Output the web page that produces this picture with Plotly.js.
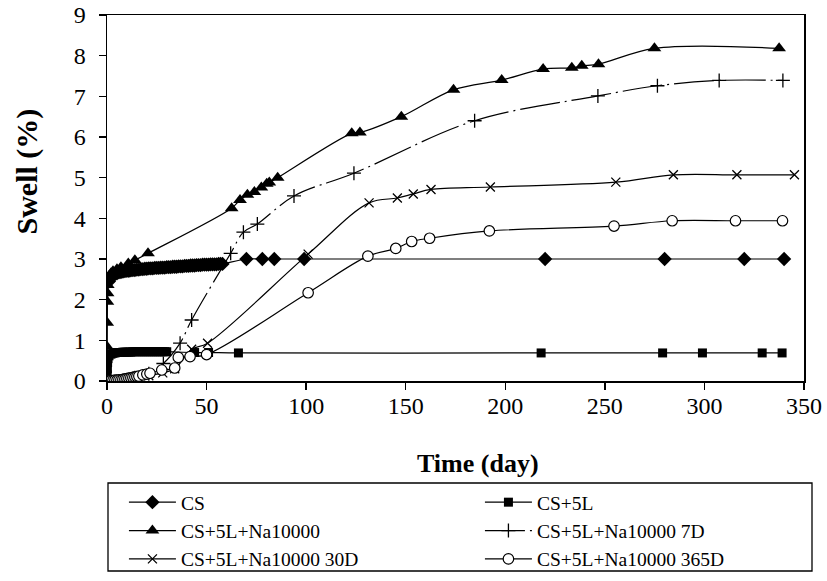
<!DOCTYPE html>
<html><head><meta charset="utf-8">
<script src="https://cdn.plot.ly/plotly-3.0.1.min.js"></script>
<style>html,body{margin:0;padding:0;background:#fff}#chart{width:827px;height:581px}</style>
</head><body><div id="chart"></div>
<script>
// ---- Data ----
const seriesNames = ["CS", "CS+5L", "CS+5L+Na10000", "CS+5L+Na10000 7D", "CS+5L+Na10000 30D", "CS+5L+Na10000 365D"];

const csDay = [0,1,2,3,4,5,6,7,8,9,10,11,12,13,14,15,16,17,18,19,20,21,22,23,24,25,26,27,28,29,30,31,32,33,34,35,36,37,38,39,40,41,42,43,44,45,46,47,48,49,50,51,52,53,54,55,56,57,58,70,78,84,99,220,280,320,340];
const csVal = [0,2.45,2.55,2.6,2.63,2.65,2.67,2.68,2.69,2.7,2.71,2.71,2.72,2.73,2.73,2.74,2.74,2.75,2.75,2.76,2.76,2.77,2.77,2.77,2.78,2.78,2.78,2.79,2.79,2.79,2.8,2.8,2.8,2.81,2.81,2.81,2.82,2.82,2.82,2.83,2.83,2.83,2.84,2.84,2.84,2.85,2.85,2.85,2.86,2.86,2.86,2.86,2.87,2.87,2.87,2.87,2.88,2.88,2.88,3,3,3,3,3,3,3,3];

const s5Day = [0,0.1,0.2,0.3,0.5,1,2,3,4,5,6,7,8,9,10,11,12,13,14,15,16,17,18,19,20,21,22,23,24,25,26,27,28,29,30,44,51,66,218,279,299,329,339];
const s5Val = [0,0.15,0.3,0.45,0.55,0.62,0.66,0.68,0.69,0.7,0.7,0.7,0.71,0.71,0.71,0.71,0.71,0.72,0.72,0.72,0.72,0.72,0.72,0.72,0.72,0.72,0.72,0.72,0.72,0.72,0.72,0.72,0.72,0.72,0.72,0.7,0.7,0.69,0.69,0.69,0.69,0.69,0.69];

const naDay = [0,0.05,0.1,0.2,0.3,0.4,0.6,1,2,3,5,7,10.7,14,20.6,62.6,66.8,70.5,74,77.5,80.2,81.5,85.7,122.9,127,147.8,174,198.2,219,233.4,238.4,246.8,274.9,337.5];
const naVal = [0,0.84,1.43,1.95,2.16,2.36,2.5,2.58,2.65,2.7,2.75,2.8,2.89,2.97,3.14,4.25,4.45,4.58,4.65,4.76,4.85,4.88,5.0,6.09,6.11,6.5,7.16,7.4,7.67,7.7,7.75,7.79,8.18,8.18];

const d7Day = [0,14,21,28.3,36.7,42.5,62.1,68.5,75.5,93.9,124,184.6,246.5,276.4,307.4,339.4];
const d7Val = [0,0.08,0.18,0.43,0.93,1.5,3.14,3.66,3.86,4.55,5.11,6.4,7.01,7.26,7.39,7.39];

const d30Day = [0,7,14,21,28,34,42.5,50.5,101,131.6,145.8,153.8,162.7,192.5,255.5,284.4,316.3,345.2];
const d30Val = [0,0.03,0.07,0.13,0.2,0.3,0.78,0.93,3.12,4.38,4.5,4.6,4.71,4.77,4.89,5.07,5.07,5.07];

const d365Day = [0,1,2,3,4,5,6,7,8,9,10,11,12,13,14,15,16,18,20,21.6,27.5,34,35.8,41.7,50,101,131,145,153,162,192,254.6,283.8,315.6,339.2];
const d365Val = [0,0,0.01,0.01,0.02,0.02,0.03,0.03,0.04,0.05,0.06,0.07,0.08,0.09,0.1,0.11,0.12,0.15,0.17,0.19,0.27,0.32,0.58,0.6,0.65,2.17,3.07,3.26,3.43,3.51,3.69,3.81,3.94,3.94,3.94];

const xTicks = [0,50,100,150,200,250,300,350];
const yTicks = [0,1,2,3,4,5,6,7,8,9];

// ---- Styling ----
const FONT = "Liberation Serif";
const lineBase = {color: "#000", width: 1.2, shape: "spline", smoothing: 1};

const traces = [
  {name: seriesNames[0], x: csDay, y: csVal, mode: "lines+markers", line: lineBase,
   marker: {symbol: "diamond", size: 11, color: "#000"}},
  {name: seriesNames[1], x: s5Day, y: s5Val, mode: "lines+markers", line: lineBase,
   marker: {symbol: "square", size: 9, color: "#000"}},
  {name: seriesNames[2], x: naDay, y: naVal, mode: "lines+markers", line: lineBase,
   marker: {symbol: "triangle-up", size: 12, color: "#000"}},
  {name: seriesNames[3], x: d7Day, y: d7Val, mode: "lines+markers",
   line: Object.assign({}, lineBase, {dash: "40px,5px,2px,5px"}),
   marker: {symbol: "cross-thin", size: 10, color: "#000", line: {color: "#000", width: 1.3}}},
  {name: seriesNames[4], x: d30Day, y: d30Val, mode: "lines+markers", line: lineBase,
   marker: {symbol: "x-thin", size: 9, color: "#000", line: {color: "#000", width: 1.3}}},
  {name: seriesNames[5], x: d365Day, y: d365Val, mode: "lines+markers", line: lineBase,
   marker: {symbol: "circle", size: 10.5, color: "#fff", line: {color: "#000", width: 1.2}}}
];

const PW = 697, PH = 366;   // plot area size in px
const layout = {
  width: 827, height: 581,
  margin: {l: 107, r: 23, t: 15, b: 200, autoexpand: false},
  paper_bgcolor: "#fff", plot_bgcolor: "#fff",
  font: {family: FONT, size: 24, color: "#000"},
  showlegend: true,
  xaxis: {range: [0, 350], tickvals: xTicks, ticktext: xTicks.map(String),
    showgrid: false, zeroline: false, showline: true, mirror: true,
    linecolor: "#000", linewidth: 1.5, ticks: "outside", ticklen: 7, tickwidth: 1.5, tickcolor: "#000",
    ticklabelstandoff: -4,
    tickfont: {family: FONT, size: 24, color: "#000"}},
  yaxis: {range: [0, 9], tickvals: yTicks, ticktext: yTicks.map(String),
    showgrid: false, zeroline: false, showline: true, mirror: true,
    linecolor: "#000", linewidth: 1.5, ticks: "outside", ticklen: 7, tickwidth: 1.5, tickcolor: "#000",
    ticklabelstandoff: 8,
    tickfont: {family: FONT, size: 24, color: "#000"}},
  legend: {orientation: "h", x: -0.0001, xanchor: "left", y: (381-483)/PH, yanchor: "top",
    entrywidth: 277, entrywidthmode: "pixels", itemwidth: 47, indentation: 17,
    borderwidth: 0, bgcolor: "rgba(0,0,0,0)", traceorder: "normal",
    font: {family: FONT, size: 19.5, color: "#000"}},
  shapes: [
    {type: "rect", xref: "paper", yref: "paper",
     x0: (108-107)/PW, x1: (812-107)/PW, y0: (381-571)/PH, y1: (381-483)/PH,
     line: {color: "#000", width: 1.3}, fillcolor: "rgba(0,0,0,0)"}
  ],
  annotations: [
    {text: "<b>Time (day)</b>", xref: "paper", yref: "paper", x: (478-107)/PW, y: (381-463)/PH,
     xanchor: "center", yanchor: "middle", showarrow: false, font: {family: FONT, size: 26, color: "#000"}},
    {text: "<b>Swell (%)</b>", xref: "paper", yref: "paper", x: (26-107)/PW, y: (381-171.5)/PH,
     xanchor: "center", yanchor: "middle", textangle: -90, showarrow: false, font: {family: FONT, size: 30, color: "#000"}}
  ]
};

Plotly.newPlot("chart", traces, layout, {displayModeBar: false, staticPlot: true});
</script>
</body></html>
